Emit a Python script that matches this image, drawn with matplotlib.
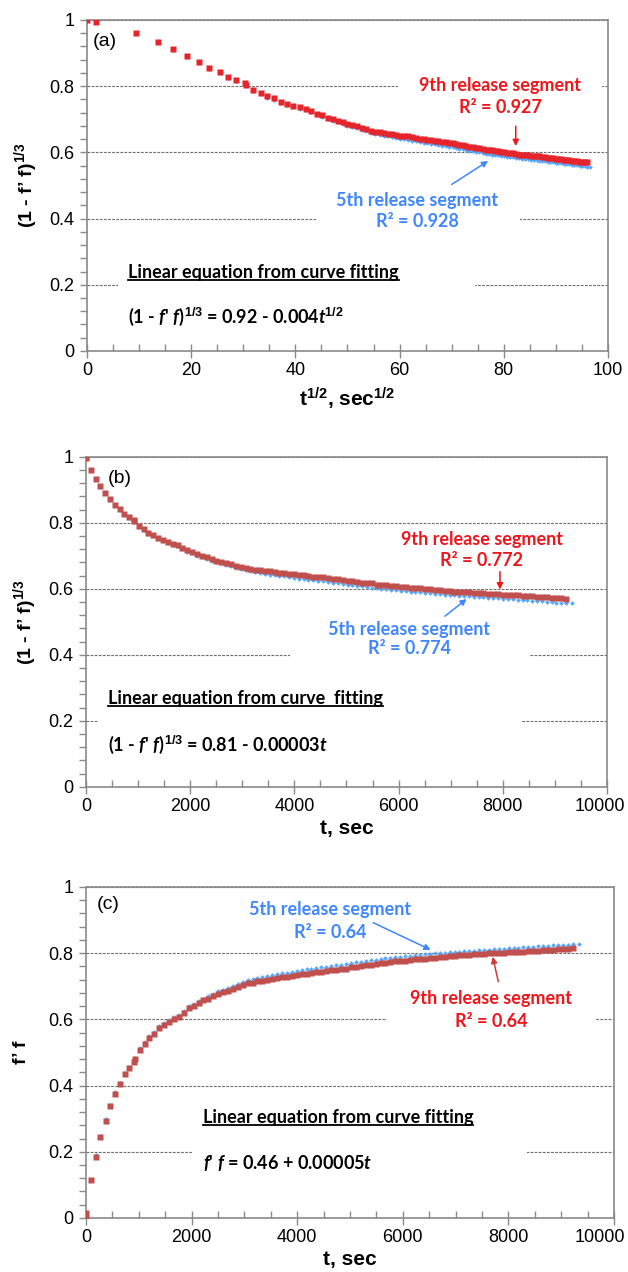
import numpy as np
import matplotlib
matplotlib.use('Agg')
import matplotlib.pyplot as plt
from matplotlib.ticker import MultipleLocator, FuncFormatter
from matplotlib.patches import Rectangle
from matplotlib.lines import Line2D
from matplotlib.transforms import ScaledTranslation

plt.rcParams['font.family'] = ['Liberation Sans', 'DejaVu Sans']
plt.rcParams['mathtext.fontset'] = 'custom'
plt.rcParams['mathtext.rm'] = 'Liberation Sans:bold'
plt.rcParams['mathtext.bf'] = 'Liberation Sans:bold'
plt.rcParams['mathtext.it'] = 'Lato:italic:bold'

# release time (sec) (b)/(c)
t_9th = [0, 3, 90, 185, 272, 370, 460, 548, 648, 735,
         822, 918, 926, 1015, 1112, 1192, 1292, 1390, 1480, 1568,
         1672, 1760, 1850, 1945, 2040, 2135, 2225, 2315, 2410, 2500,
         2590, 2690, 2780, 2875, 2975, 3065, 3155, 3245, 3340, 3430,
         3525, 3620, 3710, 3805, 3900, 3990, 4085, 4180, 4270, 4365,
         4460, 4550, 4645, 4740, 4830, 4925, 5020, 5110, 5205, 5300,
         5390, 5485, 5580, 5670, 5765, 5860, 5950, 6045, 6140, 6230,
         6325, 6420, 6510, 6605, 6700, 6790, 6885, 6980, 7070, 7165,
         7260, 7350, 7445, 7540, 7630, 7725, 7820, 7910, 8005, 8100,
         8190, 8285, 8380, 8470, 8565, 8660, 8750, 8845, 8940, 9030,
         9125, 9220]
# released fraction f'f, 9th release segment
ff_9th = [0.000, 0.015, 0.115, 0.185, 0.244, 0.292, 0.338, 0.375, 0.404, 0.434,
          0.452, 0.470, 0.480, 0.508, 0.525, 0.545, 0.556, 0.573, 0.583, 0.593,
          0.601, 0.608, 0.620, 0.633, 0.640, 0.650, 0.657, 0.663, 0.671, 0.678,
          0.682, 0.687, 0.693, 0.699, 0.705, 0.709, 0.711, 0.715, 0.717, 0.720,
          0.722, 0.725, 0.727, 0.728, 0.731, 0.733, 0.736, 0.737, 0.740, 0.742,
          0.744, 0.745, 0.748, 0.749, 0.752, 0.753, 0.757, 0.758, 0.760, 0.763,
          0.765, 0.766, 0.770, 0.771, 0.772, 0.775, 0.776, 0.777, 0.779, 0.781,
          0.782, 0.783, 0.785, 0.786, 0.787, 0.789, 0.791, 0.791, 0.793, 0.794,
          0.795, 0.796, 0.797, 0.797, 0.799, 0.800, 0.801, 0.801, 0.803, 0.804,
          0.805, 0.805, 0.807, 0.808, 0.808, 0.810, 0.811, 0.811, 0.813, 0.813,
          0.814, 0.815]

t_5th = [0, 3, 90, 185, 272, 370, 460, 548, 648, 735,
         822, 918, 926, 1015, 1112, 1192, 1292, 1390, 1480, 1568,
         1672, 1760, 1850, 1945, 2040, 2135, 2225, 2315, 2410, 2500,
         2590, 2690, 2780, 2875, 2975, 3065, 3155, 3245, 3340, 3430,
         3525, 3620, 3710, 3805, 3900, 3990, 4085, 4180, 4270, 4365,
         4460, 4550, 4645, 4740, 4830, 4925, 5020, 5110, 5205, 5300,
         5390, 5485, 5580, 5670, 5765, 5860, 5950, 6045, 6140, 6230,
         6325, 6420, 6510, 6605, 6700, 6790, 6885, 6980, 7070, 7165,
         7260, 7350, 7445, 7540, 7630, 7725, 7820, 7910, 8005, 8100,
         8190, 8285, 8380, 8470, 8565, 8660, 8750, 8845, 8940, 9030,
         9125, 9220, 9330]
ff_5th = [0.000, 0.015, 0.115, 0.189, 0.249, 0.298, 0.342, 0.380, 0.409, 0.438,
          0.457, 0.475, 0.484, 0.513, 0.531, 0.551, 0.562, 0.579, 0.589, 0.599,
          0.607, 0.614, 0.626, 0.639, 0.646, 0.656, 0.663, 0.670, 0.678, 0.685,
          0.690, 0.695, 0.701, 0.707, 0.713, 0.718, 0.721, 0.725, 0.728, 0.731,
          0.734, 0.737, 0.739, 0.741, 0.744, 0.746, 0.749, 0.751, 0.753, 0.755,
          0.757, 0.759, 0.761, 0.763, 0.765, 0.767, 0.770, 0.772, 0.774, 0.776,
          0.778, 0.780, 0.783, 0.784, 0.786, 0.788, 0.789, 0.791, 0.792, 0.794,
          0.795, 0.796, 0.798, 0.799, 0.800, 0.801, 0.803, 0.804, 0.805, 0.806,
          0.807, 0.808, 0.809, 0.810, 0.811, 0.812, 0.813, 0.814, 0.815, 0.816,
          0.817, 0.818, 0.819, 0.820, 0.821, 0.822, 0.823, 0.824, 0.825, 0.826,
          0.826, 0.827, 0.828]

t9 = np.array(t_9th, dtype=float)
t5 = np.array(t_5th, dtype=float)
f9 = np.array(ff_9th)
f5 = np.array(ff_5th)

red_a = '#e4252b'
red_bc = '#c0504d'
blue = '#55a8ff'
txt_red = '#f0151b'
txt_blue = '#3f86ff'
grey = '#8a8a8a'

fig = plt.figure(figsize=(6.28, 12.72), dpi=100)
ax_a = fig.add_axes([0.1385, 0.7241, 0.8296, 0.2602])
ax_b = fig.add_axes([0.1369, 0.3815, 0.8296, 0.2594])
ax_c = fig.add_axes([0.1369, 0.0425, 0.8408, 0.2602])


def style(ax, xmax, xmaj, xmin):
    ax.set_xlim(0, xmax)
    ax.set_ylim(0, 1)
    ax.xaxis.set_major_locator(MultipleLocator(xmaj))
    ax.xaxis.set_minor_locator(MultipleLocator(xmin))
    ax.yaxis.set_major_locator(MultipleLocator(0.2))
    ax.yaxis.set_minor_locator(MultipleLocator(0.04))
    ax.yaxis.set_major_formatter(FuncFormatter(lambda v, p: '%g' % round(v, 2)))
    ax.tick_params(axis='x', which='major', direction='inout', length=10, width=1,
                   color=grey, labelsize=13, pad=3)
    ax.tick_params(axis='x', which='minor', direction='in', length=5, width=1, color=grey)
    ax.tick_params(axis='y', which='both', direction='out', length=5, width=1,
                   color=grey, labelsize=13, pad=4)
    for s in ax.spines.values():
        s.set_color(grey)
        s.set_linewidth(1.2)
    ax.set_axisbelow(True)
    ax.grid(axis='y', color='#6e6e6e', lw=0.8, ls=(0, (2.5, 1.2)))


def mask(ax, x0, x1, y0, y1):
    # white text box of the original that hides the grid
    ax.add_patch(Rectangle((x0, y0), x1 - x0, y1 - y0, transform=ax.transAxes,
                           fc='white', ec='none', zorder=1))


def arrow(ax, tail, head, c):
    ax.annotate('', xy=head, xytext=tail,
                arrowprops=dict(arrowstyle='-|>', color=c, lw=1.1, mutation_scale=9,
                                shrinkA=0, shrinkB=0), zorder=5)


ann = dict(family=['Lato', 'DejaVu Sans'], fontweight='bold', fontsize=13, zorder=5)
underlined = []

# ---------------- (a) ----------------
style(ax_a, 100, 20, 5)
ax_a.plot(np.sqrt(t5), np.cbrt(1 - f5), 'D', ms=2.4, color=blue, mec='none', zorder=3)
ax_a.plot(np.sqrt(t9), np.cbrt(1 - f9), 's', ms=3.8, color=red_a, mec='none', zorder=3)
ax_a.set_xlabel('t$^{1/2}$, sec$^{1/2}$', fontsize=15, fontweight='bold', labelpad=5)
ax_a.set_ylabel('(1 - f\u2019 f)$^{1/3}$', fontsize=14, fontweight='bold', labelpad=7)
ax_a.text(1.2, 0.936, '(a)', fontsize=14, va='center')
mask(ax_a, 0.597, 0.988, 0.698, 0.855)
mask(ax_a, 0.440, 0.831, 0.335, 0.486)
mask(ax_a, 0.060, 0.745, 0.048, 0.289)
ax_a.text(79.3, 0.803, '9th release segment', color=txt_red, ha='center', va='center', **ann)
ax_a.text(79.3, 0.737, 'R\u00b2 = 0.927', color=txt_red, ha='center', va='center', **ann)
ax_a.text(63.4, 0.456, '5th release segment', color=txt_blue, ha='center', va='center', **ann)
ax_a.text(63.4, 0.390, 'R\u00b2 = 0.928', color=txt_blue, ha='center', va='center', **ann)
underlined.append(ax_a.text(7.9, 0.236, 'Linear equation from curve fitting',
                            ha='left', va='center', **ann))
ax_a.text(7.9, 0.103, r"(1 - $f$' $f$)$^{1/3}$ = 0.92 - 0.004$t^{\!1/2}$",
          ha='left', va='center', **ann)
arrow(ax_a, (82.3, 0.679), (82.3, 0.619), txt_red)
arrow(ax_a, (70.0, 0.503), (77.0, 0.574), txt_blue)

# ---------------- (b) ----------------
style(ax_b, 10000, 2000, 500)
ax_b.plot(t5, np.cbrt(1 - f5), 'D', ms=2.4, color=blue, mec='none', zorder=3)
ax_b.plot(t9, np.cbrt(1 - f9), 's', ms=3.8, color=red_bc, mec='none', zorder=3)
ax_b.set_xlabel('t, sec', fontsize=15, fontweight='bold', labelpad=3)
ax_b.set_ylabel('(1 - f\u2019 f)$^{1/3}$', fontsize=14, fontweight='bold', labelpad=7)
ax_b.text(422, 0.935, '(b)', fontsize=14, va='center')
mask(ax_b, 0.392, 0.850, 0.369, 0.505)
mask(ax_b, 0.023, 0.837, 0.066, 0.293)
ax_b.text(7595, 0.748, '9th release segment', color=txt_red, ha='center', va='center', **ann)
ax_b.text(7595, 0.687, 'R\u00b2 = 0.772', color=txt_red, ha='center', va='center', **ann)
ax_b.text(6205, 0.477, '5th release segment', color=txt_blue, ha='center', va='center', **ann)
ax_b.text(6205, 0.418, 'R\u00b2 = 0.774', color=txt_blue, ha='center', va='center', **ann)
underlined.append(ax_b.text(422, 0.266, 'Linear equation from curve  fitting',
                            ha='left', va='center', **ann))
ax_b.text(422, 0.126, "(1 - $f$' $f$)$^{1/3}$ = 0.81 - 0.00003$t$",
          ha='left', va='center', **ann)
arrow(ax_b, (7946, 0.652), (7946, 0.598), txt_red)
arrow(ax_b, (6891, 0.517), (7307, 0.569), txt_blue)

# ---------------- (c) ----------------
style(ax_c, 10000, 2000, 500)
ax_c.plot(t5, f5, 'D', ms=2.4, color=blue, mec='none', zorder=3)
ax_c.plot(t9, f9, 's', ms=3.8, color=red_bc, mec='none', zorder=3)
ax_c.set_xlabel('t, sec', fontsize=15, fontweight='bold', labelpad=3)
ax_c.set_ylabel('f\u2019 f', fontsize=14, fontweight='bold', labelpad=13)
ax_c.text(208, 0.946, '(c)', fontsize=14, va='center')
mask(ax_c, 0.570, 0.964, 0.553, 0.704)
mask(ax_c, 0.203, 0.835, 0.100, 0.341)
ax_c.text(4631, 0.931, '5th release segment', color=txt_blue, ha='center', va='center', **ann)
ax_c.text(4631, 0.861, 'R\u00b2 = 0.64', color=txt_blue, ha='center', va='center', **ann)
ax_c.text(7667, 0.664, '9th release segment', color=txt_red, ha='center', va='center', **ann)
ax_c.text(7667, 0.593, 'R\u00b2 = 0.64', color=txt_red, ha='center', va='center', **ann)
underlined.append(ax_c.text(2210, 0.304, 'Linear equation from curve fitting',
                            ha='left', va='center', **ann))
ax_c.text(2210, 0.165, "$f$' $f$ = 0.46 + 0.00005$t$", ha='left', va='center', **ann)
arrow(ax_c, (5441, 0.892), (6528, 0.810), txt_blue)
arrow(ax_c, (7809, 0.714), (7703, 0.789), '#d23a3a')

fig.canvas.draw()
rend = fig.canvas.get_renderer()
inv = fig.transFigure.inverted()

# last x label sits a little left of the corner, as in the original
for ax, shift in [(ax_b, 7), (ax_c, 14)]:
    for tk in ax.xaxis.get_major_ticks():
        if tk.label1.get_text() == '10000':
            tk.label1.set_transform(tk.label1.get_transform() +
                                    ScaledTranslation(-shift / 100, 0, fig.dpi_scale_trans))

# underline the fitting titles
for t in underlined:
    bb = t.get_window_extent(rend)
    (x0, y0), (x1, _) = inv.transform([(bb.x0, bb.y0 + 1), (bb.x1, bb.y0 + 1)])
    fig.add_artist(Line2D([x0, x1], [y0, y0], color='black', lw=1.3))

fig.savefig('out.png', dpi=100)
